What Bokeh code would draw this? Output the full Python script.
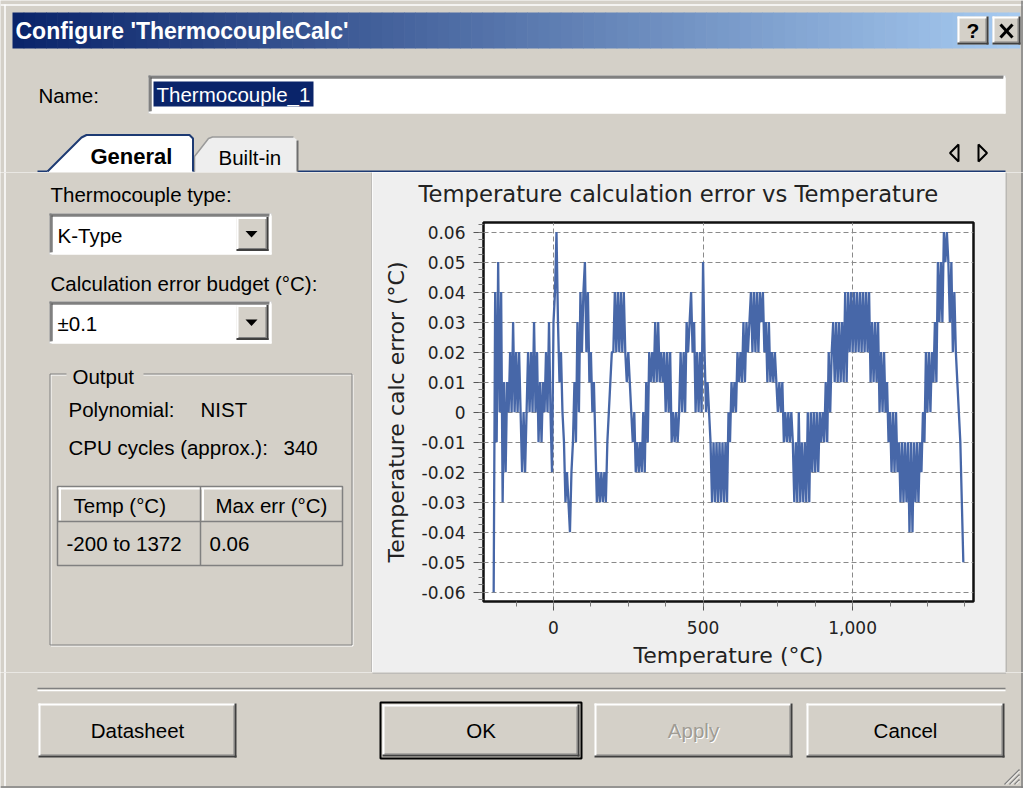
import numpy as np
from bokeh.plotting import figure
from bokeh.layouts import column, row
from bokeh.models import Range1d, SingleIntervalTicker, NumeralTickFormatter, Title
from bokeh.core.properties import value
from bokeh.embed import file_html
from bokeh.resources import INLINE

# ---------------- data ----------------
temps_c = list(range(-200, 1371, 5))          # sampling grid of the curve (°C)
err_centi = [                                  # calc error in 0.01 °C steps
    # -200 .. -105
    -6, 4, -1, 5, 0, 4, -3, 1, -2, 1, 0, 2, 0, 3, 0, 2, 0, 2, 0, -2,
    # -100 .. -5
    0, -2, 0, 2, 0, 2, 0, 3, 0, 2, -1, 1, -1, 1, 0, 2, 0, 3, 0, -2,
    # 0 .. 95
    3, 4, 6, 3, 1, 2, 0, -1, -3, -2, -3, -4, -2, -1, 1, -1, 3, 0, 4, 2,
    # 100 .. 195
    4, 5, 2, 4, 1, 2, 0, 1, -1, -3, -2, -3, -2, -3, -2, -3, -1, 0, 1, 2,
    # 200 .. 295
    2, 4, 2, 4, 2, 4, 2, 4, 2, 1, 2, 1, 0, -1, 0, -2, -1, -2, -1, -2,
    # 300 .. 395
    0, -2, 1, -1, 2, 1, 2, 1, 3, 1, 3, 1, 2, 1, 2, 0, 2, 0, 2, -1,
    # 400 .. 495
    0, -1, 0, -1, 0, 2, 0, 2, 0, 3, 2, 3, 4, 2, 3, 0, 2, 0, 2, 0,
    # 500 .. 595
    5, 2, 0, 1, 0, -1, -3, -1, -3, -1, -3, -1, -3, -1, -3, -1, -3, 0, -1, 1,
    # 600 .. 695
    0, 1, 0, 2, 1, 2, 1, 3, 1, 3, 2, 3, 4, 2, 4, 2, 4, 2, 4, 3,
    # 700 .. 795
    4, 2, 3, 1, 3, 1, 2, 1, 2, 1, 0, 1, 0, 1, -1, 0, -1, 0, -1, 0,
    # 800 .. 895
    -1, -3, -1, -3, 0, -3, -1, -3, -1, -3, 0, -3, 0, -2, 0, -2, 0, -2, 0, -1,
    # 900 .. 995
    0, -1, 1, -1, 2, 0, 2, 3, 1, 3, 1, 3, 1, 3, 1, 4, 1, 4, 2, 4,
    # 1000 .. 1095
    2, 4, 2, 4, 2, 4, 2, 4, 2, 4, 2, 4, 1, 3, 1, 3, 1, 3, 0, 2,
    # 1100 .. 1195
    0, 2, 0, 1, -1, 0, -2, 0, -2, 0, -2, -1, -3, -1, -3, -1, -3, -1, -4, -1,
    # 1200 .. 1295
    -4, -1, -3, -1, -3, -1, -2, 0, -1, 2, 0, 2, 0, 2, 1, 3, 1, 5, 3, 5,
    # 1300 .. 1370
    3, 6, 5, 6, 5, 3, 5, 2, 4, 2, 1, 0, -1, -3, -5,
]
err_c = [v / 100 for v in err_centi]

chart_title = "Temperature calculation error vs Temperature"
x_label = "Temperature (°C)"
y_label = "Temperature calc error (°C)"

window_title = "Configure 'ThermocoupleCalc'"
name_label = "Name:"
name_value = "Thermocouple_1"
tab_labels = ["General", "Built-in"]
tc_type_label = "Thermocouple type:"
tc_type_value = "K-Type"
budget_label = "Calculation error budget (°C):"
budget_value = "±0.1"
group_label = "Output"
poly_label, poly_value = "Polynomial:", "NIST"
cpu_label, cpu_value = "CPU cycles (approx.):", "340"
table_headers = ["Temp (°C)", "Max err (°C)"]
table_row = ["-200 to 1372", "0.06"]
button_labels = ["Datasheet", "OK", "Apply", "Cancel"]

# ---------------- styling helpers ----------------
FACE = "#D4D0C8"
DARK = "#404040"
SHADOW = "#808080"
UI = value("Liberation Sans")
UI_SIZE = "20.5px"


def panel(x0, x1, y0, y1, fill=FACE):
    f = figure(width=x1 - x0, height=y1 - y0,
               x_range=Range1d(x0, x1), y_range=Range1d(y1, y0),
               x_axis_type=None, y_axis_type=None, min_border=0,
               output_backend="svg", toolbar_location=None)
    f.outline_line_color = None
    f.background_fill_color = fill
    f.border_fill_color = fill
    f.frame_align = False
    return f


def seg(f, x0, y0, x1, y1, color, w=1.0):
    f.segment(x0=[x0], y0=[y0], x1=[x1], y1=[y1], line_color=color, line_width=w)


def box(f, l, t, r, b, fill, line=None, w=1.0):
    f.quad(left=[l], right=[r], top=[t], bottom=[b],
           fill_color=fill, line_color=line, line_width=w)


def txt(f, x, y, s, size=UI_SIZE, color="black", align="left", style="normal", font=UI):
    f.text(x=[x], y=[y], text=[s], text_font=font, text_font_size=size,
           text_color=color, text_align=align, text_baseline="middle",
           text_font_style=style)


def raised(f, l, t, r, b):
    box(f, l, t, r, b, FACE)
    seg(f, l, t + 1, r - 1, t + 1, "white", 2)
    seg(f, l + 1, t, l + 1, b - 1, "white", 2)
    seg(f, l, b - 1, r, b - 1, DARK, 2)
    seg(f, r - 1, t, r - 1, b, DARK, 2)
    seg(f, l + 2, b - 2.5, r - 2, b - 2.5, SHADOW, 1)
    seg(f, r - 2.5, t + 2, r - 2.5, b - 2, SHADOW, 1)


def sunken(f, l, t, r, b, fill="white"):
    box(f, l, t, r, b, fill)
    seg(f, l, t + 1, r, t + 1, SHADOW, 2)
    seg(f, l + 1, t, l + 1, b, SHADOW, 2)
    seg(f, l + 2, t + 2.5, r - 2, t + 2.5, DARK, 1)
    seg(f, l + 2.5, t + 2, l + 2.5, b - 2, DARK, 1)
    seg(f, l, b - 1, r, b - 1, "white", 2)
    seg(f, r - 1, t, r - 1, b, "white", 2)


def combo(f, t, b, label):
    yc = (t + b) / 2
    sunken(f, 49, t, 271, b)
    raised(f, 236, t + 3.5, 268, b - 3.5)
    f.patch(x=[245, 257, 251], y=[yc - 3, yc - 3, yc + 3.5], fill_color="black", line_color=None)
    txt(f, 57, yc + 1, label)


# ---------------- top strip: title bar, name, tabs ----------------
top = panel(0, 1023, 0, 172)
seg(top, 0, 4.5, 1023, 4.5, "white", 1.5)
seg(top, 4.5, 4, 4.5, 172, "white", 1.5)
seg(top, 1021.5, 0, 1021.5, 172, SHADOW, 1.5)
n = 90
xs = np.linspace(12, 1019, n + 1)
c0 = np.array([10, 36, 106])
c1 = np.array([166, 202, 240])
cols = ["#%02x%02x%02x" % tuple(int(round(v)) for v in c0 + (c1 - c0) * (i / (n - 1)))
        for i in range(n)]
top.quad(left=xs[:-1], right=xs[1:] + 0.6, top=12, bottom=48, fill_color=cols, line_color=None)
txt(top, 15, 30.5, window_title, size="23px", color="white", style="bold")
raised(top, 957, 16, 988, 44)
txt(top, 972.5, 30, "?", size="21px", style="bold", align="center")
raised(top, 992, 16, 1020, 44)
seg(top, 1000, 24, 1012, 37, "black", 3)
seg(top, 1012, 24, 1000, 37, "black", 3)

txt(top, 38, 95, name_label)
sunken(top, 148, 75, 1005, 113)
box(top, 153, 81, 313, 106, "#0A246A")
txt(top, 156, 94, name_value, color="white")

seg(top, 37, 171, 1005, 171, "#1D3A73", 2)
top.patch(x=[194, 194, 208, 212, 293, 297, 297], y=[172, 156, 138, 136.5, 136.5, 140, 172],
          fill_color="#EEEEEE", line_color=None)
top.line(x=[194, 194, 208, 212, 293], y=[171, 156, 138, 136.5, 136.5],
         line_color="#9A9A9A", line_width=1.5)
seg(top, 297, 140, 297, 171, "#6E6E6E", 2)
top.patch(x=[45, 81, 86, 189, 193, 193], y=[173, 137, 134.5, 134.5, 138.5, 173],
          fill_color="white", line_color=None)
top.line(x=[47, 81, 86, 189, 192.5, 192.5], y=[171, 137, 134.5, 134.5, 138, 171],
         line_color="#1D3A73", line_width=2)
txt(top, 90, 156, tab_labels[0], size="22px", style="bold")
txt(top, 218, 157, tab_labels[1])
top.patch(x=[958, 958, 949.5], y=[144, 161, 152.5], fill_color=None, line_color="black", line_width=2)
top.patch(x=[978, 978, 986.5], y=[144, 161, 152.5], fill_color=None, line_color="black", line_width=2)

# ---------------- left column ----------------
left = panel(0, 372, 172, 672)
seg(left, 4.5, 172, 4.5, 672, "white", 1.5)
txt(left, 50, 194, tc_type_label)
combo(left, 213, 254, tc_type_value)
txt(left, 50, 283, budget_label)
combo(left, 301, 343, budget_value)
left.quad(left=[50.5], right=[352.5], top=[374.5], bottom=[645.5],
          fill_color=None, line_color="white", line_width=1)
left.quad(left=[49.5], right=[351.5], top=[373.5], bottom=[644.5],
          fill_color=None, line_color=SHADOW, line_width=1)
box(left, 66, 366, 143, 381, FACE)
txt(left, 72, 376, group_label)
txt(left, 68, 409, poly_label)
txt(left, 200, 409, poly_value)
txt(left, 68, 447, cpu_label)
txt(left, 283, 447, cpu_value)
box(left, 57, 486, 342, 565, FACE, SHADOW, 1.5)
seg(left, 58, 488, 341, 488, "white", 2)
seg(left, 59.5, 487, 59.5, 520, "white", 2)
seg(left, 202.5, 488, 202.5, 520, "white", 2)
seg(left, 57, 521, 342, 521, SHADOW, 1.5)
seg(left, 200, 486, 200, 565, SHADOW, 1.5)
txt(left, 73, 505, table_headers[0])
txt(left, 215, 505, table_headers[1])
txt(left, 66, 543, table_row[0])
txt(left, 209, 543, table_row[1])
seg(left, 371.5, 172, 371.5, 672, "#A8A8A8", 1)

# ---------------- chart ----------------
chart = figure(width=633, height=500,
               x_range=Range1d(-234, 1404), y_range=Range1d(-0.0631, 0.0632),
               min_border_left=111, min_border_right=32, min_border_top=50, min_border_bottom=71,
               output_backend="svg", toolbar_location=None, title=chart_title)
chart.frame_align = False
chart.border_fill_color = "#EFEFEF"
chart.background_fill_color = "white"
chart.outline_line_color = "#111111"
chart.outline_line_width = 2.5
tt = chart.title
tt.text_font = "DejaVu Sans"
tt.text_font_size = "22.7px"
tt.text_font_style = "normal"
tt.text_color = "#222222"
tt.align = "left"
tt.offset = -65
tt.standoff = 8
# empty spacer between the title and the frame
chart.add_layout(Title(text=" ", text_font_size="8.5px", text_font="DejaVu Sans", standoff=0), "above")

xt = SingleIntervalTicker(interval=500, num_minor_ticks=4)
yt = SingleIntervalTicker(interval=0.01, num_minor_ticks=4)
chart.xaxis.ticker = xt
chart.xgrid.ticker = xt
chart.yaxis.ticker = yt
chart.ygrid.ticker = yt
chart.xaxis.formatter = NumeralTickFormatter(format="0,0")
chart.yaxis.formatter = NumeralTickFormatter(format="0.[00]")
chart.xaxis.axis_label = x_label
chart.yaxis.axis_label = y_label
for ax in (chart.xaxis[0], chart.yaxis[0]):
    ax.axis_line_color = None
    ax.major_tick_line_color = "#555555"
    ax.minor_tick_line_color = "#777777"
    ax.major_tick_in = 0
    ax.minor_tick_in = 0
    ax.major_label_text_font = "DejaVu Sans"
    ax.major_label_text_font_size = "17px"
    ax.major_label_text_color = "#222222"
    ax.axis_label_text_font = "DejaVu Sans"
    ax.axis_label_text_font_size = "22px"
    ax.axis_label_text_font_style = "normal"
    ax.axis_label_text_color = "#222222"
chart.xaxis.major_tick_out = 9
chart.xaxis.minor_tick_out = 5
chart.xaxis.major_label_standoff = 10
chart.xaxis.axis_label_standoff = 6
chart.yaxis.major_tick_out = 10
chart.yaxis.minor_tick_out = 5
chart.yaxis.major_label_standoff = 8
chart.yaxis.axis_label_standoff = 10
for g in (chart.xgrid[0], chart.ygrid[0]):
    g.grid_line_color = "#8A8A8A"
    g.grid_line_dash = "5 3"
    g.grid_line_width = 1
chart.line(x=temps_c, y=err_c, line_color="#4767A8", line_width=2.3)

# ---------------- right strip ----------------
right = panel(1005, 1023, 172, 672)
seg(right, 1005.5, 172, 1005.5, 672, "#A0A0A0", 1)
seg(right, 1021.5, 172, 1021.5, 672, SHADOW, 1.5)

# ---------------- bottom: separator and buttons ----------------
bot = panel(0, 1023, 672, 788)
seg(bot, 4.5, 672, 4.5, 786, "white", 1.5)
seg(bot, 1021.5, 672, 1021.5, 788, SHADOW, 1.5)
seg(bot, 0, 786.5, 1023, 786.5, SHADOW, 1.5)
seg(bot, 372, 672.5, 1005.5, 672.5, "#A8A8A8", 1)
seg(bot, 37, 688, 1005, 688, SHADOW, 1.5)
seg(bot, 37, 690, 1005, 690, "white", 1.5)
btn_spans = [(38, 236), (381, 580), (594, 792), (806, 1004)]
for (bl, br), lab in zip(btn_spans, button_labels):
    if lab == "OK":
        box(bot, bl - 1, 702, br + 1, 758, FACE, "black", 2)
        raised(bot, bl + 1, 704, br - 1, 756)
    else:
        raised(bot, bl, 703, br, 757)
    cx = (bl + br) / 2
    if lab == "Apply":
        txt(bot, cx + 1, 731, lab, color="white", align="center")
        txt(bot, cx, 730, lab, color="#A09C94", align="center")
    else:
        txt(bot, cx, 730, lab, align="center")
for k in range(3):
    seg(bot, 1004 + 5 * k, 784, 1019, 769 + 5 * k, SHADOW, 1.5)
    seg(bot, 1005.5 + 5 * k, 784, 1019, 770.5 + 5 * k, "white", 1)

layout = column(top, row(left, chart, right), bot)
open("out.html", "w").write(file_html(layout, INLINE))
